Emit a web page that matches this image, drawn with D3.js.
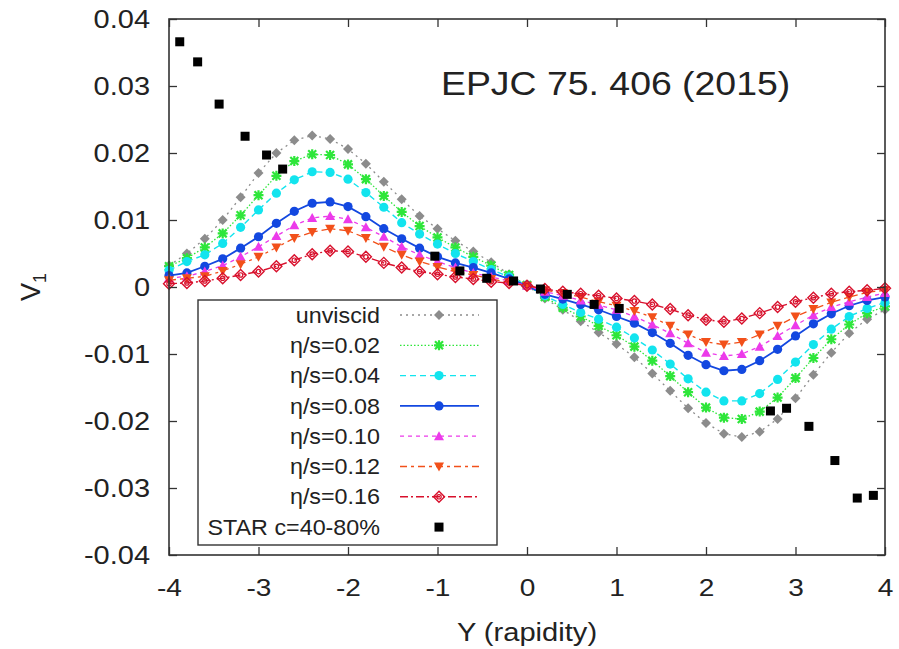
<!DOCTYPE html>
<html>
<head>
<meta charset="utf-8">
<script src="https://cdn.jsdelivr.net/npm/d3@7"></script>
<style>
  body { margin: 0; background: #fff; }
  text { font-family: "Liberation Sans", Arial, sans-serif; fill: #222; }
</style>
</head>
<body>
<div id="container"></div>
<script>
const width = 899;
const height = 649;
const plotLeft = 169, plotRight = 885, plotTop = 19, plotBottom = 555;

// rapidity grid of the model curves
const rapidity = [-4.0, -3.8, -3.6, -3.4, -3.2, -3.0, -2.8, -2.6, -2.4, -2.2,
  -2.0, -1.8, -1.6, -1.4, -1.2, -1.0, -0.8, -0.6, -0.4, -0.2, 0.0,
  0.2, 0.4, 0.6, 0.8, 1.0, 1.2, 1.4, 1.6, 1.8, 2.0,
  2.2, 2.4, 2.6, 2.8, 3.0, 3.2, 3.4, 3.6, 3.8, 4.0];

const unviscid = [0.0032, 0.0050, 0.0072, 0.0100, 0.0134, 0.0170, 0.0200, 0.0219, 0.0226, 0.0221,
  0.0206, 0.0184, 0.0157, 0.0131, 0.0106, 0.0087, 0.0069, 0.0053, 0.0037, 0.0019, 0.0002,
  -0.0017, -0.0034, -0.0051, -0.0068, -0.0085, -0.0105, -0.0129, -0.0155, -0.0181, -0.0203,
  -0.0219, -0.0224, -0.0216, -0.0197, -0.0166, -0.0131, -0.0098, -0.0069, -0.0048, -0.0034];
const eta002 = [0.0031, 0.0043, 0.0059, 0.0080, 0.0107, 0.0137, 0.0166, 0.0188, 0.0198, 0.0197,
  0.0183, 0.0161, 0.0136, 0.0112, 0.0091, 0.0074, 0.0059, 0.0045, 0.0032, 0.0018, 0.0003,
  -0.0015, -0.0031, -0.0044, -0.0058, -0.0072, -0.0089, -0.0110, -0.0133, -0.0157, -0.0180,
  -0.0195, -0.0197, -0.0186, -0.0165, -0.0136, -0.0106, -0.0078, -0.0056, -0.0039, -0.0029];
const eta004 = [0.0025, 0.0038, 0.0048, 0.0065, 0.0089, 0.0115, 0.0140, 0.0160, 0.0172, 0.0171,
  0.0161, 0.0141, 0.0119, 0.0096, 0.0079, 0.0064, 0.0050, 0.0038, 0.0026, 0.0015, 0.0003,
  -0.0013, -0.0026, -0.0038, -0.0048, -0.0060, -0.0076, -0.0094, -0.0115, -0.0137, -0.0157,
  -0.0170, -0.0170, -0.0159, -0.0138, -0.0112, -0.0086, -0.0063, -0.0044, -0.0032, -0.0023];
const eta008 = [0.0017, 0.0021, 0.0031, 0.0042, 0.0058, 0.0075, 0.0095, 0.0113, 0.0125, 0.0127,
  0.0120, 0.0105, 0.0087, 0.0072, 0.0058, 0.0045, 0.0036, 0.0029, 0.0021, 0.0012, 0.0002,
  -0.0011, -0.0018, -0.0026, -0.0034, -0.0044, -0.0054, -0.0068, -0.0084, -0.0102, -0.0116,
  -0.0125, -0.0123, -0.0110, -0.0093, -0.0073, -0.0055, -0.0040, -0.0028, -0.0020, -0.0015];
const eta010 = [0.0013, 0.0016, 0.0023, 0.0032, 0.0045, 0.0060, 0.0076, 0.0092, 0.0103, 0.0106,
  0.0101, 0.0089, 0.0075, 0.0060, 0.0048, 0.0038, 0.0029, 0.0021, 0.0015, 0.0009, 0.0002,
  -0.0007, -0.0013, -0.0020, -0.0027, -0.0034, -0.0044, -0.0056, -0.0069, -0.0084, -0.0098,
  -0.0103, -0.0100, -0.0089, -0.0073, -0.0057, -0.0042, -0.0030, -0.0022, -0.0015, -0.0009];
const eta012 = [0.0010, 0.0013, 0.0016, 0.0024, 0.0034, 0.0045, 0.0059, 0.0073, 0.0082, 0.0087,
  0.0084, 0.0073, 0.0060, 0.0048, 0.0038, 0.0030, 0.0023, 0.0018, 0.0012, 0.0007, 0.0002,
  -0.0005, -0.0009, -0.0015, -0.0022, -0.0028, -0.0036, -0.0045, -0.0058, -0.0071, -0.0082,
  -0.0086, -0.0082, -0.0071, -0.0058, -0.0044, -0.0033, -0.0023, -0.0015, -0.0008, -0.0005];
const eta016 = [0.0005, 0.0006, 0.0009, 0.0013, 0.0018, 0.0023, 0.0031, 0.0040, 0.0049, 0.0054,
  0.0053, 0.0045, 0.0036, 0.0029, 0.0023, 0.0019, 0.0015, 0.0012, 0.0008, 0.0006, 0.0002,
  -0.0003, -0.0007, -0.0010, -0.0013, -0.0017, -0.0021, -0.0026, -0.0033, -0.0042, -0.0049,
  -0.0052, -0.0047, -0.0039, -0.0030, -0.0022, -0.0016, -0.0010, -0.0007, -0.0005, -0.0002];

// STAR data points
const starY = [-3.88, -3.68, -3.44, -3.15, -2.91, -2.73, -1.03, -0.75, -0.45, -0.15,
  0.15, 0.45, 0.75, 1.03, 2.72, 2.90, 3.15, 3.44, 3.69, 3.87];
const starV = [0.0366, 0.0336, 0.0273, 0.0225, 0.0197, 0.0176, 0.0046, 0.0024, 0.0013, 0.0009,
  -0.0003, -0.0011, -0.0026, -0.0032, -0.0185, -0.0181, -0.0208, -0.0259, -0.0315, -0.0311];

const xTicks = [-4, -3, -2, -1, 0, 1, 2, 3, 4];
const yTicks = [-0.04, -0.03, -0.02, -0.01, 0, 0.01, 0.02, 0.03, 0.04];

const series = [
  {name: "unviscid", values: unviscid, color: "#8c8c8c", dash: "2,4", width: 1.3, marker: "diamond"},
  {name: "η/s=0.02", values: eta002, color: "#2ee63a", dash: "1.5,2", width: 1.3, marker: "star"},
  {name: "η/s=0.04", values: eta004, color: "#12e4ee", dash: "6,4", width: 1.4, marker: "circle"},
  {name: "η/s=0.08", values: eta008, color: "#1348e0", dash: null, width: 1.8, marker: "circle"},
  {name: "η/s=0.10", values: eta010, color: "#ec3aea", dash: "4,4", width: 1.3, marker: "triup"},
  {name: "η/s=0.12", values: eta012, color: "#f2501a", dash: "7,4,3,4", width: 1.3, marker: "tridown"},
  {name: "η/s=0.16", values: eta016, color: "#d8102c", dash: "8,3,2,3", width: 1.4, marker: "odiamond"}
];

const svg = d3.select("#container").append("svg").attr("width", width).attr("height", height);

const xScale = d3.scaleLinear().domain([-4, 4]).range([plotLeft, plotRight]);
const yScale = d3.scaleLinear().domain([-0.04, 0.04]).range([plotBottom, plotTop]);

// the source picture is a bit wider than tall, so the lettering gets stretched sideways
function stretch(sel, sx) {
  sel.attr("transform", function() {
    const x = +(this.getAttribute("x") || 0);
    return `translate(${x},0) scale(${sx},1) translate(${-x},0)`;
  });
}

function drawMarker(g, type, color, x, y) {
  if (type === "circle") {
    g.append("circle").attr("cx", x).attr("cy", y).attr("r", 4.6).attr("fill", color);
  } else if (type === "diamond") {
    g.append("path").attr("d", `M${x},${y-5}L${x+5},${y}L${x},${y+5}L${x-5},${y}Z`).attr("fill", color);
  } else if (type === "star") {
    g.append("path")
      .attr("d", `M${x-5},${y}H${x+5}M${x},${y-5}V${y+5}M${x-4},${y-4}L${x+4},${y+4}M${x-4},${y+4}L${x+4},${y-4}`)
      .attr("stroke", color).attr("stroke-width", 2.2).attr("fill", "none");
  } else if (type === "triup") {
    g.append("path").attr("d", `M${x},${y-5}L${x+5},${y+4}L${x-5},${y+4}Z`).attr("fill", color);
  } else if (type === "tridown") {
    g.append("path").attr("d", `M${x},${y+5}L${x+5},${y-4}L${x-5},${y-4}Z`).attr("fill", color);
  } else if (type === "odiamond") {
    g.append("path").attr("d", `M${x},${y-5.5}L${x+5.5},${y}L${x},${y+5.5}L${x-5.5},${y}Z`)
      .attr("fill", "none").attr("stroke", color).attr("stroke-width", 1.4);
    g.append("circle").attr("cx", x).attr("cy", y).attr("r", 2.2)
      .attr("fill", "none").attr("stroke", color).attr("stroke-width", 1.2);
  }
}

// model curves
const line = d3.line().x(d => xScale(d[0])).y(d => yScale(d[1]));
const curves = svg.append("g");
series.forEach(s => {
  const pts = rapidity.map((r, i) => [r, s.values[i]]);
  curves.append("path").datum(pts).attr("d", line)
    .attr("fill", "none").attr("stroke", s.color).attr("stroke-width", s.width)
    .attr("stroke-dasharray", s.dash);
  const mg = curves.append("g");
  pts.forEach(p => drawMarker(mg, s.marker, s.color, xScale(p[0]), yScale(p[1])));
});

// STAR squares
svg.append("g").selectAll("rect").data(starY.map((r, i) => [r, starV[i]])).enter().append("rect")
  .attr("x", d => xScale(d[0]) - 4.5).attr("y", d => yScale(d[1]) - 4.5)
  .attr("width", 9).attr("height", 9).attr("fill", "#000");

// axes with inward ticks on all four sides
const axisColor = "#333";
const hyphen = s => s.replace("\u2212", "-");
function styleAxis(g) {
  g.select(".domain").remove();
  g.selectAll(".tick line").attr("stroke", axisColor).attr("stroke-width", 1.3);
}
svg.append("g").attr("transform", `translate(0,${plotBottom})`)
  .call(d3.axisBottom(xScale).tickValues(xTicks).tickSize(-8).tickPadding(25)
    .tickFormat(d => hyphen(d3.format("d")(d))))
  .call(styleAxis)
  .selectAll("text").attr("font-size", 23).attr("fill", "#222").call(stretch, 1.22);
svg.append("g").attr("transform", `translate(0,${plotTop})`)
  .call(d3.axisTop(xScale).tickValues(xTicks).tickSize(-8).tickFormat(""))
  .call(styleAxis);
svg.append("g").attr("transform", `translate(${plotLeft},0)`)
  .call(d3.axisLeft(yScale).tickValues(yTicks).tickSize(-8).tickPadding(19)
    .tickFormat(d => d === 0 ? "0" : hyphen(d3.format(".2f")(d))))
  .call(styleAxis)
  .selectAll("text").attr("font-size", 25).attr("fill", "#222").call(stretch, 1.16);
svg.append("g").attr("transform", `translate(${plotRight},0)`)
  .call(d3.axisRight(yScale).tickValues(yTicks).tickSize(-8).tickFormat(""))
  .call(styleAxis);
svg.selectAll(".tick text").style("font-family", "'Liberation Sans', Arial, sans-serif");

svg.append("rect").attr("x", plotLeft).attr("y", plotTop)
  .attr("width", plotRight - plotLeft).attr("height", plotBottom - plotTop)
  .attr("fill", "none").attr("stroke", axisColor).attr("stroke-width", 1.6);

// axis titles
svg.append("text").attr("x", 527).attr("y", 641)
  .attr("text-anchor", "middle").attr("font-size", 26).text("Y (rapidity)").call(stretch, 1.12);
const v1 = svg.append("text").attr("transform", "translate(40,287) rotate(-90)")
  .attr("text-anchor", "middle").attr("font-size", 27);
v1.append("tspan").text("V");
v1.append("tspan").attr("font-size", 18).attr("dy", 6).text("1");

svg.append("text").attr("x", 441).attr("y", 95).attr("font-size", 34)
  .text("EPJC 75. 406 (2015)").call(stretch, 1.1);

// legend
const legend = svg.append("g");
legend.append("rect").attr("x", 198).attr("y", 300).attr("width", 299).attr("height", 245)
  .attr("fill", "#fff").attr("stroke", axisColor).attr("stroke-width", 1.4);
const rowY0 = 315, rowStep = 30.3;
series.forEach((s, i) => {
  const y = rowY0 + i * rowStep;
  legend.append("text").attr("x", 380).attr("y", y).attr("dy", "0.35em")
    .attr("text-anchor", "end").attr("font-size", 22).text(s.name).call(stretch, 1.06);
  legend.append("line").attr("x1", 400).attr("x2", 479).attr("y1", y).attr("y2", y)
    .attr("stroke", s.color).attr("stroke-width", s.width).attr("stroke-dasharray", s.dash);
  drawMarker(legend, s.marker, s.color, 439, y);
});
const starRow = rowY0 + series.length * rowStep;
legend.append("text").attr("x", 380).attr("y", starRow).attr("dy", "0.35em")
  .attr("text-anchor", "end").attr("font-size", 22).text("STAR c=40-80%").call(stretch, 1.06);
legend.append("rect").attr("x", 439 - 4.5).attr("y", starRow - 4.5).attr("width", 9).attr("height", 9).attr("fill", "#000");
</script>
</body>
</html>
